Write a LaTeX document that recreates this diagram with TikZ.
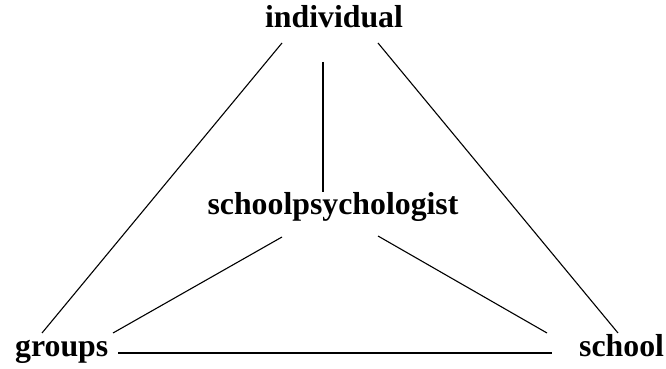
\documentclass[tikz,border=0pt]{standalone}
\usepackage{fontspec}
\setmainfont{Liberation Serif}
\begin{document}
\begin{tikzpicture}[x=1pt,y=1pt,
  lbl/.style={font=\fontsize{31.8}{38}\selectfont\bfseries, inner sep=0pt},
  conn/.style={line width=1.1pt}]
\useasboundingbox (0,0) rectangle (666,369);
\node[lbl, anchor=base] (ind) at (334,341) {individual};
\node[lbl, anchor=base] (sp) at (333,154) {schoolpsychologist};
\node[lbl, anchor=base west] (grp) at (15,12) {groups};
\node[lbl, anchor=base west] (sch) at (579,12) {school};
\draw[conn] ([shift={(-52,-15)}]ind.base) -- ([shift={(27,24)}]grp.base west);
\draw[conn] ([shift={(-11,-34)}]ind.base) -- ([shift={(-10,23)}]sp.base);
\draw[conn] ([shift={(44,-15)}]ind.base) -- ([shift={(39,24)}]sch.base west);
\draw[conn] ([shift={(-51,-22)}]sp.base) -- ([shift={(98,24)}]grp.base west);
\draw[conn] ([shift={(45,-21)}]sp.base) -- ([shift={(-32,24)}]sch.base west);
\draw[conn] ([shift={(103,4)}]grp.base west) -- ([shift={(-27,4)}]sch.base west);
\end{tikzpicture}
\end{document}
